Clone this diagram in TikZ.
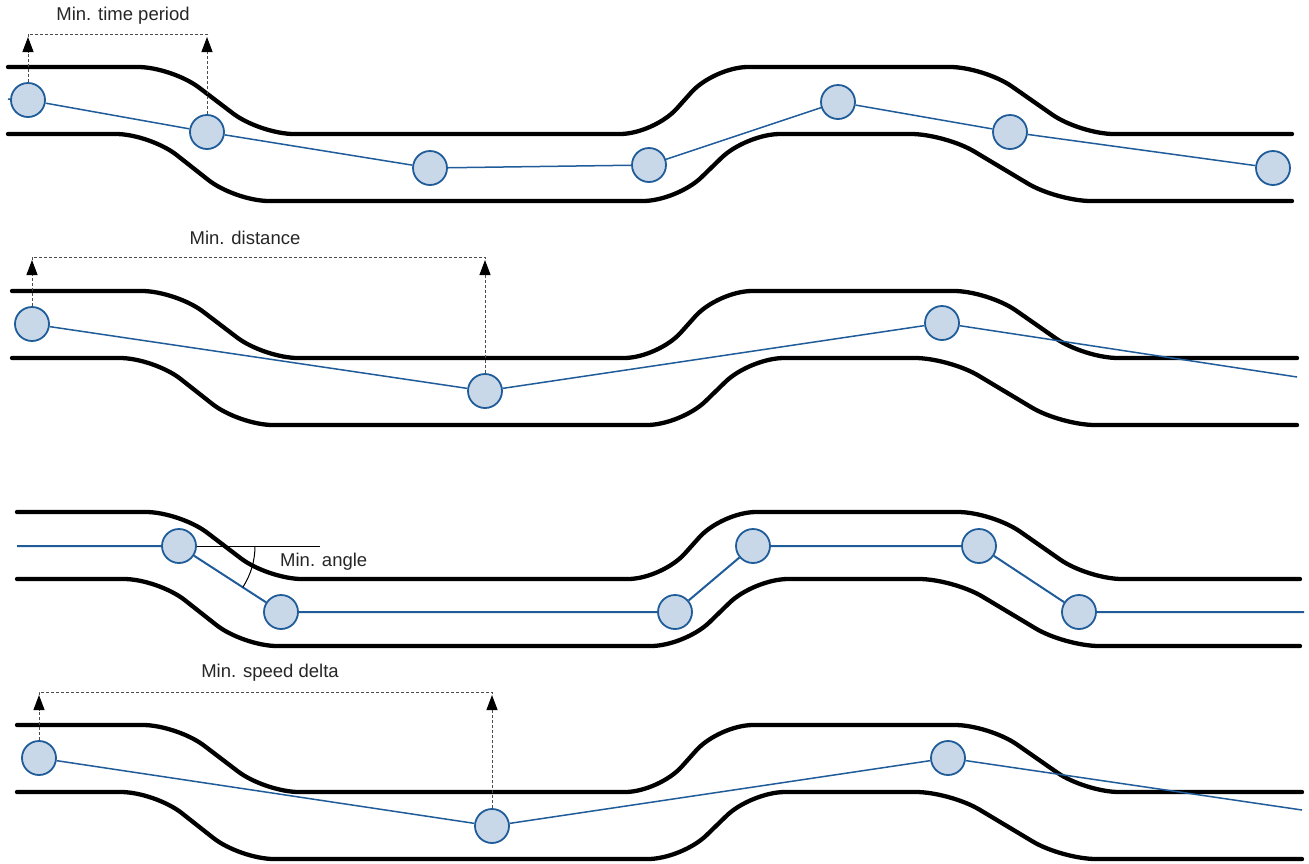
\documentclass[tikz,border=0pt]{standalone}
\usepackage{fontspec}
\setmainfont{Liberation Sans}
\usetikzlibrary{arrows.meta}
\definecolor{trackblue}{HTML}{1F5C99}
\definecolor{ptfill}{HTML}{C8D8E8}
\newcommand\myroad[4]{%
  \draw[road] (#3,67+#2) -- (172+#1,67+#2) -- (260+#1,134+#2) -- (654+#1,134+#2) -- (714+#1,67+#2) -- (984+#1,67+#2) -- (1080+#1,134+#2) -- (#4,134+#2);
  \draw[road] (#3,134+#2) -- (150+#1,134+#2) -- (235+#1,201+#2) -- (677+#1,201+#2) -- (746+#1,134+#2) -- (945+#1,134+#2) -- (1057+#1,201+#2) -- (#4,201+#2);}
\begin{document}
\begin{tikzpicture}[x=1pt,y=-1pt,
  road/.style={line width=4.3pt, line cap=round, rounded corners=34pt},
  track/.style={trackblue, line width=1.5pt},
  pt/.style={circle, draw=trackblue, fill=ptfill, line width=1.8pt, minimum size=34pt, inner sep=0pt},
  dimline/.style={black!70, line width=1pt, dash pattern=on 3pt off 2pt},
  dimarrow/.style={dimline, -{Triangle[length=15pt,width=11pt,black]}},
  lbl/.style={font=\fontsize{18.5}{22}\selectfont, text=black!85, inner sep=0pt}]
\useasboundingbox (0,0) rectangle (1309,863);
% roads
\myroad{0}{0}{8}{1292}
\myroad{4}{224}{12}{1297}
\myroad{8}{445}{17}{1300}
\myroad{5}{658}{17}{1302}
% panel 1
\node[pt] (a1) at (28,100) {};
\node[pt] (a2) at (207,132) {};
\node[pt] (a3) at (430,168) {};
\node[pt] (a4) at (649,165) {};
\node[pt] (a5) at (838,102) {};
\node[pt] (a6) at (1010,132) {};
\node[pt] (a7) at (1273,168) {};
\coordinate (a0) at (8,99);
\draw[track] (a0) -- (a1) -- (a2) -- (a3) -- (a4) -- (a5) -- (a6) -- (a7);
\coordinate (ta1) at (28,37);
\coordinate (ba1) at (28,34);
\coordinate (bb1) at (207,34);
\coordinate (tb1) at (207,37);
\draw[dimarrow] (a1) -- (ta1);
\draw[dimarrow] (a2) -- (tb1);
\draw[dimline] (ta1) -- (ba1) -- (bb1) -- (tb1);
\node[lbl] (l1) at (123,16) {Min. time period};
% panel 2
\node[pt] (b1) at (32,324) {};
\node[pt] (b2) at (485,391) {};
\node[pt] (b3) at (942,323) {};
\coordinate (b4) at (1297,377);
\draw[track] (b1) -- (b2) -- (b3) -- (b4);
\coordinate (ta2) at (32,260);
\coordinate (ba2) at (32,257);
\coordinate (bb2) at (485,257);
\coordinate (tb2) at (485,260);
\draw[dimarrow] (b1) -- (ta2);
\draw[dimarrow] (b2) -- (tb2);
\draw[dimline] (ta2) -- (ba2) -- (bb2) -- (tb2);
\node[lbl] (l2) at (245,238) {Min. distance};
% panel 3
\coordinate (c0) at (17,546);
\node[pt] (c1) at (179,546) {};
\node[pt] (c2) at (281,612) {};
\node[pt] (c3) at (675,612) {};
\node[pt] (c4) at (753,546) {};
\node[pt] (c5) at (979,546) {};
\node[pt] (c6) at (1079,612) {};
\coordinate (c7) at (1304,612);
\draw[track, line width=2pt] (c0) -- (c1) -- (c2) -- (c3) -- (c4) -- (c5) -- (c6) -- (c7);
\coordinate (cr) at (320,546);
\draw[line width=1pt] (c1) -- (cr);
\draw[line width=1pt] (c1.center) ++(76,0) arc[start angle=0, end angle=33, radius=76];
\node[lbl, anchor=west] (l3) at (280,562) {Min. angle};
% panel 4
\node[pt] (d1) at (39,758) {};
\node[pt] (d2) at (492,826) {};
\node[pt] (d3) at (948,758) {};
\coordinate (d4) at (1302,810);
\draw[track] (d1) -- (d2) -- (d3) -- (d4);
\coordinate (ta4) at (39,695);
\coordinate (ba4) at (39,692);
\coordinate (bb4) at (492,692);
\coordinate (tb4) at (492,695);
\draw[dimarrow] (d1) -- (ta4);
\draw[dimarrow] (d2) -- (tb4);
\draw[dimline] (ta4) -- (ba4) -- (bb4) -- (tb4);
\node[lbl] (l4) at (270,673) {Min. speed delta};
\end{tikzpicture}
\end{document}
